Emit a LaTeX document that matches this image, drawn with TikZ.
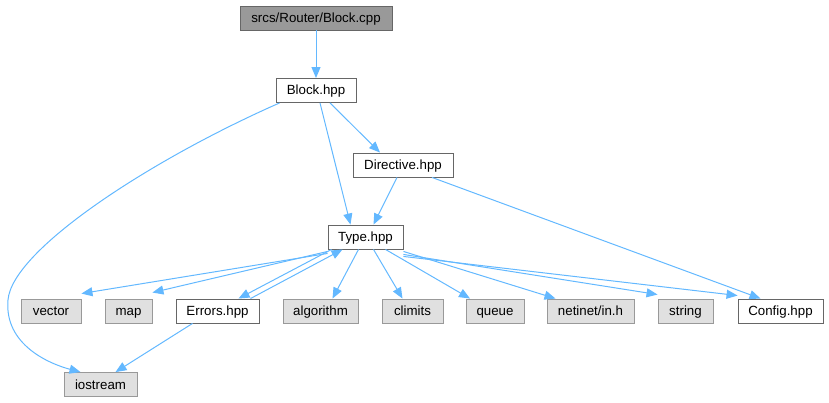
\documentclass[tikz,border=0pt]{standalone}
\usepackage{fontspec}
\setmainfont{Liberation Sans}
\usetikzlibrary{arrows.meta}
\definecolor{edgec}{HTML}{63B8FF}
\definecolor{gfill}{HTML}{E0E0E0}
\definecolor{gbord}{HTML}{999999}
\definecolor{wbord}{HTML}{666666}
\definecolor{tfill}{HTML}{999999}
\begin{document}
\begin{tikzpicture}[x=1pt,y=-1pt,
  base/.style={draw, line width=0.9pt, inner sep=0pt, minimum height=24pt, text height=10pt, text depth=1pt, font=\fontsize{13.3}{16}\selectfont},
  wnode/.style={base, draw=wbord, fill=white},
  gnode/.style={base, draw=gbord, fill=gfill},
  tnode/.style={base, draw=wbord, fill=tfill},
  edge/.style={draw=edgec, line width=1pt, -{Triangle[length=11pt,width=9pt]}}]
\useasboundingbox (0,0) rectangle (829,403);
\node[tnode, minimum width=152pt] (cpp) at (316,18) {srcs/Router/Block.cpp};
\node[wnode, minimum width=80pt] (blk) at (316,90.5) {Block.hpp};
\node[wnode, minimum width=100pt] (dir) at (403,165) {Directive.hpp};
\node[wnode, minimum width=75pt] (typ) at (365.5,237) {Type.hpp};
\node[gnode, minimum width=60pt] (vec) at (51,311) {vector};
\node[gnode, minimum width=47pt] (map) at (128.5,311) {map};
\node[wnode, minimum width=83pt] (err) at (217.5,311) {Errors.hpp};
\node[gnode, minimum width=75pt] (alg) at (320.5,311) {algorithm};
\node[gnode, minimum width=61pt] (lim) at (412.5,311) {climits};
\node[gnode, minimum width=58pt] (que) at (495,311) {queue};
\node[gnode, minimum width=87pt] (net) at (590.5,311) {netinet/in.h};
\node[gnode, minimum width=55pt] (str) at (685.5,311) {string};
\node[wnode, minimum width=85pt] (cfg) at (780.5,311) {Config.hpp};
\node[gnode, minimum width=73pt] (ios) at (100.5,384.5) {iostream};

\draw[edge] (cpp) -- (blk);
\draw[edge] (blk.south west) ++(4,0) .. controls (150,160) and (12,250) .. (8,300) .. controls (4,345) and (50,364) .. ([xshift=-20pt]ios.north);
\draw[edge] ([xshift=4pt]blk.south) -- ([xshift=-15pt]typ.north);
\draw[edge] ([xshift=14pt]blk.south) -- ([xshift=-23pt]dir.north);
\draw[edge] ([xshift=-6pt]dir.south) -- ([xshift=8pt]typ.north);
\draw[edge] ([xshift=29pt]dir.south) -- ([xshift=-20pt]cfg.north);
\draw[edge] ([yshift=-4pt]typ.south west) -- ([yshift=5pt]vec.north east);
\draw[edge] ([yshift=-2pt]typ.south west) -- ([yshift=6pt]map.north east);
\draw[edge] ([xshift=4pt]typ.south west) -- ([xshift=21pt]err.north);
\draw[edge] ([xshift=33pt]err.north) -- ([xshift=-23pt]typ.south);
\draw[edge] ([xshift=-7pt]typ.south) -- ([xshift=12pt]alg.north);
\draw[edge] ([xshift=8pt]typ.south) -- ([xshift=-10pt]lim.north);
\draw[edge] ([xshift=20pt]typ.south) -- ([xshift=-25pt]que.north);
\draw[edge] ([yshift=-2pt]typ.south east) -- ([xshift=-35pt]net.north);
\draw[edge] ([yshift=-5pt]typ.south east) -- ([yshift=4pt]str.north west);
\draw[edge] ([yshift=-7pt]typ.south east) -- ([yshift=3pt]cfg.north west);
\draw[edge] ([xshift=-25pt]err.south) -- ([xshift=15pt]ios.north);
\end{tikzpicture}
\end{document}
